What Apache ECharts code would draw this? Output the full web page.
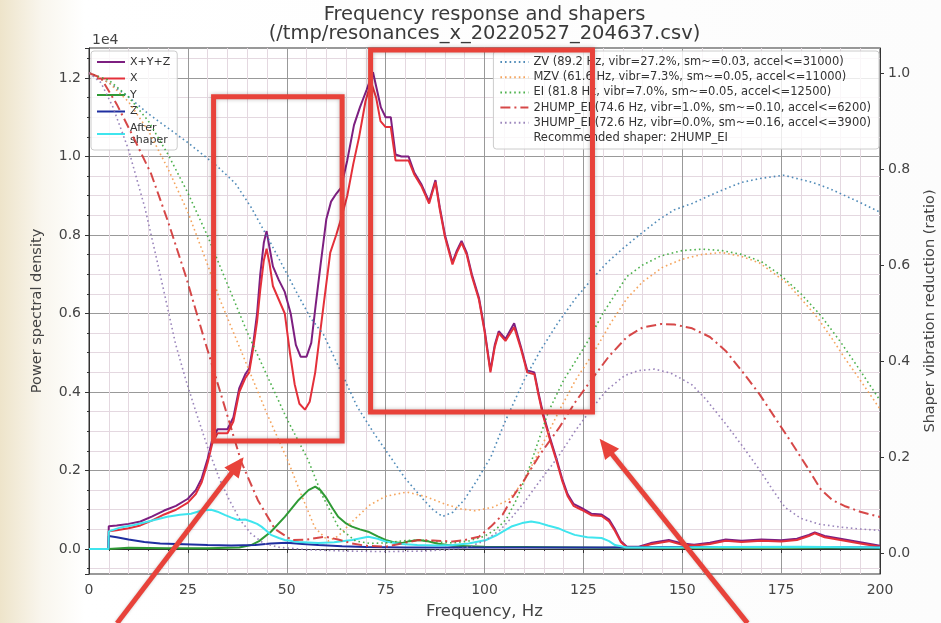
<!DOCTYPE html>
<html><head><meta charset="utf-8">
<script src="https://cdn.jsdelivr.net/npm/echarts@6/dist/echarts.min.js"></script>
<style>html,body{margin:0;padding:0;background:#fff}#chart{width:941px;height:623px}</style>
</head><body><div id="chart"></div>
<script>
// ---------- data (PSD in units of 1e4, shaper ratios) ----------
const psdSum = [[0,0],[4.9,0],[5,0.058],[7,0.06],[10,0.064],[13,0.07],[16,0.083],[19,0.098],[22,0.11],[25,0.128],[27,0.15],[28.5,0.18],[30,0.23],[31.2,0.28],[32.5,0.305],[35,0.305],[36.5,0.335],[38,0.41],[39.5,0.445],[40.5,0.46],[41.5,0.52],[42.5,0.6],[43.3,0.7],[44.2,0.78],[44.9,0.81],[45.6,0.77],[46.5,0.72],[48,0.685],[49.5,0.655],[51,0.6],[52.3,0.52],[53.5,0.49],[55,0.49],[56.2,0.525],[57.3,0.62],[58.5,0.72],[60,0.84],[61.2,0.885],[62.5,0.905],[63.7,0.92],[65.3,0.99],[67,1.08],[68.5,1.125],[70.2,1.17],[71.8,1.215],[72.8,1.17],[73.8,1.125],[75,1.1],[76.3,1.1],[77.5,1.005],[79,1.0],[80.8,1.0],[82.2,0.96],[84,0.93],[86,0.885],[87.6,0.94],[88.7,0.87],[90,0.8],[91.9,0.73],[93,0.76],[94.2,0.785],[95.5,0.755],[96.8,0.7],[98.6,0.64],[100,0.56],[101.5,0.455],[102.6,0.52],[103.6,0.555],[105.3,0.535],[107.5,0.575],[109.2,0.515],[110.8,0.455],[112.6,0.45],[113.6,0.4],[114.8,0.345],[116.5,0.285],[118.2,0.23],[119.6,0.18],[121,0.14],[122.5,0.115],[124.5,0.105],[127,0.09],[129.6,0.088],[131.5,0.075],[133,0.05],[134.5,0.02],[136,0.006],[139,0.006],[142,0.015],[146.6,0.023],[150,0.014],[153,0.011],[157,0.016],[161,0.024],[165,0.021],[170,0.024],[175,0.022],[179,0.026],[182,0.036],[183.5,0.042],[186,0.033],[190,0.026],[195,0.017],[200,0.008]];
const psdX = [[0,0],[4.9,0],[5,0.045],[7,0.048],[10,0.053],[13,0.06],[16,0.073],[19,0.088],[22,0.1],[25,0.118],[27,0.14],[28.5,0.17],[30,0.22],[31.2,0.27],[32.5,0.295],[35,0.295],[36.5,0.325],[38,0.4],[39.5,0.435],[40.5,0.45],[41.5,0.51],[42.5,0.58],[43.3,0.66],[44.2,0.735],[44.9,0.765],[45.6,0.73],[46.5,0.67],[48,0.635],[49.5,0.6],[50.8,0.5],[52,0.42],[53.2,0.37],[54.6,0.355],[55.8,0.375],[57.2,0.45],[58.3,0.54],[59.3,0.62],[61,0.755],[62.5,0.8],[63.7,0.84],[65.3,0.9],[66.8,0.98],[68.3,1.05],[69.9,1.14],[71.3,1.19],[72.6,1.15],[73.7,1.09],[75,1.075],[76.3,1.075],[77.5,0.99],[79,0.99],[80.8,0.99],[82.2,0.955],[84,0.925],[86,0.88],[87.6,0.935],[88.7,0.865],[90,0.795],[91.9,0.725],[93,0.755],[94.2,0.78],[95.5,0.75],[96.8,0.695],[98.6,0.635],[100,0.555],[101.5,0.45],[102.6,0.515],[103.6,0.55],[105.3,0.53],[107.5,0.565],[109.2,0.51],[110.8,0.45],[112.6,0.445],[113.6,0.395],[114.8,0.34],[116.5,0.28],[118.2,0.225],[119.6,0.175],[121,0.135],[122.5,0.11],[124.5,0.1],[127,0.086],[129.6,0.084],[131.5,0.07],[133,0.046],[134.5,0.017],[136,0.004],[139,0.004],[142,0.012],[146.6,0.02],[150,0.011],[153,0.009],[157,0.013],[161,0.021],[165,0.018],[170,0.021],[175,0.019],[179,0.023],[182,0.033],[183.5,0.04],[186,0.03],[190,0.023],[195,0.014],[200,0.006]];
const psdY = [[0,0],[4.9,0],[5,0.004],[10,0.003],[20,0.002],[30,0.002],[38,0.004],[41,0.01],[43,0.02],[46,0.044],[49.5,0.082],[53,0.125],[55.5,0.15],[57.2,0.159],[58.5,0.15],[60,0.13],[61.5,0.105],[63,0.082],[65,0.065],[66.5,0.057],[68.5,0.05],[70.6,0.044],[73,0.032],[75,0.023],[77,0.017],[79,0.015],[81,0.02],[83.4,0.023],[85.5,0.02],[88,0.014],[92,0.008],[100,0.006],[110,0.005],[130,0.003],[150,0.003],[175,0.003],[200,0.002]];
const psdZ = [[0,0],[4.9,0],[5,0.033],[7,0.03],[10,0.024],[14,0.018],[18,0.014],[24,0.012],[30,0.01],[36,0.009],[42,0.01],[46,0.014],[50,0.016],[54,0.013],[58,0.01],[64,0.007],[70,0.005],[80,0.004],[100,0.004],[130,0.004],[150,0.005],[175,0.005],[200,0.004]];
const psdAfter = [[0,0],[4.9,0],[5,0.045],[8,0.055],[11.4,0.061],[15,0.07],[19.8,0.082],[23,0.087],[25.8,0.09],[28.5,0.098],[30.9,0.1],[32.5,0.095],[34.3,0.087],[36,0.08],[37.6,0.074],[39.5,0.075],[41,0.07],[42.5,0.064],[43.6,0.057],[45,0.045],[46,0.036],[48,0.028],[49.5,0.023],[53,0.018],[58,0.015],[62,0.017],[66.5,0.023],[70.6,0.031],[73,0.026],[75,0.019],[79,0.013],[83,0.01],[88,0.009],[92,0.01],[96,0.014],[100.4,0.023],[103,0.035],[104.6,0.044],[107,0.058],[109.5,0.066],[111.8,0.07],[114,0.066],[116,0.06],[118.6,0.053],[120.5,0.045],[122.8,0.036],[126,0.03],[129.6,0.028],[131.5,0.02],[133,0.01],[136,0.004],[145,0.004],[160,0.005],[180,0.006],[200,0.004]];

const shaperZV = [[0,1.0],[5,0.98],[10,0.95],[15,0.915],[20,0.885],[25,0.855],[28,0.835],[32.5,0.805],[37,0.77],[41,0.72],[45,0.66],[49.5,0.59],[53,0.535],[56,0.49],[59.3,0.455],[63,0.39],[67.8,0.305],[72,0.25],[76.2,0.2],[80,0.155],[84.7,0.11],[87,0.09],[89.4,0.076],[92,0.085],[94.8,0.11],[98,0.15],[101.6,0.2],[105,0.27],[110,0.36],[114,0.42],[118.6,0.48],[123,0.53],[127,0.569],[131,0.605],[135.5,0.638],[140,0.668],[144,0.694],[148,0.715],[152.5,0.728],[157,0.745],[161,0.759],[165,0.772],[169.6,0.78],[175.6,0.787],[182.5,0.773],[187,0.76],[191,0.745],[195,0.73],[200,0.71]];
const shaperMZV = [[0,1.0],[5,0.98],[10,0.94],[15,0.88],[20,0.8],[25,0.71],[30,0.6],[33,0.53],[35,0.49],[40,0.39],[45,0.29],[50.2,0.194],[53.6,0.123],[57.1,0.053],[60.5,0.025],[63,0.035],[66.5,0.065],[71,0.1],[75,0.118],[80.3,0.127],[85,0.118],[90,0.102],[94,0.092],[97.5,0.088],[102,0.095],[106,0.11],[110,0.15],[114,0.215],[118.8,0.295],[123,0.36],[127.4,0.415],[132,0.48],[136,0.53],[140,0.565],[145,0.595],[150,0.612],[155,0.622],[160,0.626],[165,0.618],[169.6,0.604],[176.5,0.562],[180,0.53],[184.2,0.49],[188,0.445],[191,0.407],[195,0.36],[200,0.3]];
const shaperEI = [[0,1.0],[5,0.985],[10,0.95],[15,0.9],[20,0.83],[25,0.75],[30,0.66],[35,0.56],[40,0.46],[45,0.37],[50,0.28],[55.4,0.194],[58.8,0.123],[63.1,0.053],[67.4,0.025],[71,0.02],[75,0.021],[80,0.026],[84,0.027],[88,0.023],[92,0.021],[96,0.025],[100,0.035],[103,0.05],[105.5,0.07],[108,0.11],[111,0.17],[113.5,0.23],[116.2,0.295],[120,0.36],[125.7,0.435],[130,0.5],[136,0.576],[140,0.6],[144.6,0.619],[150,0.63],[155,0.633],[160,0.63],[165,0.622],[170,0.607],[175,0.578],[180,0.54],[185,0.495],[190,0.44],[195,0.38],[200,0.318]];
const shaper2HumpEI = [[0,1.0],[3,0.99],[7,0.935],[11,0.87],[15.7,0.79],[20,0.69],[24.5,0.576],[29.2,0.444],[34.3,0.305],[38.5,0.19],[42.7,0.11],[47,0.05],[51.3,0.027],[55,0.028],[59.7,0.034],[63,0.028],[66.5,0.02],[70,0.015],[75,0.013],[79,0.02],[83.3,0.027],[87,0.026],[92,0.024],[95,0.027],[98.6,0.034],[101.6,0.055],[104.6,0.08],[107,0.115],[110.2,0.154],[114,0.205],[118.8,0.26],[123,0.315],[127.4,0.365],[131.5,0.41],[136,0.45],[140,0.47],[144.6,0.477],[148,0.476],[152.5,0.468],[157,0.45],[161,0.421],[165,0.38],[169.6,0.33],[174,0.275],[178,0.225],[181.5,0.18],[185,0.133],[188,0.11],[191,0.098],[195,0.086],[200,0.075]];
const shaper3HumpEI = [[0,1.0],[3,0.98],[6,0.93],[10,0.84],[14.2,0.717],[18,0.58],[21.9,0.435],[24.5,0.36],[27,0.295],[30,0.22],[33,0.154],[35.5,0.11],[38.2,0.069],[41,0.04],[44.2,0.02],[48,0.012],[55,0.007],[65,0.004],[75,0.003],[85,0.004],[95,0.01],[100,0.025],[104,0.048],[107,0.075],[110,0.105],[114,0.15],[118.6,0.2],[123,0.255],[127,0.3],[131,0.34],[135.5,0.37],[139,0.38],[143,0.383],[147,0.375],[150,0.362],[152.5,0.35],[156,0.32],[160.9,0.27],[165,0.225],[169.4,0.175],[173,0.13],[176,0.095],[180,0.072],[184.7,0.06],[190,0.054],[195,0.05],[200,0.047]];

const leftTickLabels = [0, 0.2, 0.4, 0.6, 0.8, 1.0, 1.2];
const rightTicks = [0, 0.2, 0.4, 0.6, 0.8, 1.0];
const psdNames = ['X+Y+Z', 'X', 'Y', 'Z', 'After\nshaper'];
const shaperNames = [
  'ZV (89.2 Hz, vibr=27.2%, sm~=0.03, accel<=31000)',
  'MZV (61.6 Hz, vibr=7.3%, sm~=0.05, accel<=11000)',
  'EI (81.8 Hz, vibr=7.0%, sm~=0.05, accel<=12500)',
  '2HUMP_EI (74.6 Hz, vibr=1.0%, sm~=0.10, accel<=6200)',
  '3HUMP_EI (72.6 Hz, vibr=0.0%, sm~=0.16, accel<=3900)'
];
const recommendedLabel = 'Recommended shaper: 2HUMP_EI';
// annotation overlays (data coordinates on left axis)
const boxes = [[[31.5, 1.152], [64.0, 0.275]], [[71.2, 1.271], [127.3, 0.349]]];
const arrows = [[[7.1, -0.189], [39.1, 0.234]], [[166.5, -0.189], [129.1, 0.281]]];

// ---------- chart ----------
const FONT = 'DejaVu Sans';
const chart = echarts.init(document.getElementById('chart'), null, {renderer: 'canvas'});
const G = {left: 89, right: 61, top: 48, bottom: 49};
const psdColors = ['#7d1f80', '#e4303a', '#2f9a35', '#1f2ea0', '#3fe5ee'];
const shColors = ['#3d7eb0', '#f49a4a', '#3aa83a', '#d23434', '#8f78b4'];
const shTypes = [[1.6, 3], [1.6, 3], [1.6, 3], [10, 4, 2, 4], [1.6, 3]];
const psdData = [psdSum, psdX, psdY, psdZ, psdAfter];
const shData = [shaperZV, shaperMZV, shaperEI, shaper2HumpEI, shaper3HumpEI];

const series = [];
psdNames.forEach((n, i) => series.push({
  name: n, type: 'line', xAxisIndex: 0, yAxisIndex: 0, data: psdData[i],
  symbol: 'none', showSymbol: false, animation: false,
  lineStyle: {color: psdColors[i], width: 2}, itemStyle: {color: psdColors[i]}
}));
shaperNames.forEach((n, i) => series.push({
  name: n, type: 'line', xAxisIndex: 0, yAxisIndex: 1, data: shData[i],
  symbol: 'none', showSymbol: false, animation: false,
  lineStyle: {color: shColors[i], width: i === 3 ? 2 : 1.6, type: shTypes[i], opacity: 0.9},
  itemStyle: {color: shColors[i]}
}));
series.push({name: recommendedLabel, type: 'line', yAxisIndex: 1, data: [], symbol: 'none',
  lineStyle: {opacity: 0}, itemStyle: {opacity: 0}});

const minor = '#e4d8e0', major = '#999999';
const legendCommon = {
  orient: 'vertical', selectedMode: false, itemWidth: 28, itemHeight: 10,
  itemStyle: {opacity: 0, borderWidth: 0},
  backgroundColor: 'rgba(255,255,255,0.8)', borderColor: '#cccccc', borderWidth: 1, borderRadius: 3
};
const option = {
  animation: false,
  backgroundColor: new echarts.graphic.LinearGradient(0, 0, 1, 0, [
    {offset: 0, color: '#eee4ca'}, {offset: 0.045, color: '#f9f6ee'}, {offset: 0.09, color: '#ffffff'}, {offset: 1, color: '#fcfcfc'}]),
  title: {
    text: 'Frequency response and shapers\n(/tmp/resonances_x_20220527_204637.csv)',
    left: 484.5, top: 5, padding: 0, textAlign: 'center',
    textStyle: {fontFamily: FONT, fontSize: 19.5, lineHeight: 19, fontWeight: 'normal', color: '#3a3a3a'}
  },
  grid: {left: G.left, right: G.right, top: G.top, bottom: G.bottom, show: true,
    outerBoundsMode: 'none', containLabel: false,
    backgroundColor: '#ffffff', borderColor: '#333', borderWidth: 1},
  legend: [
    Object.assign({}, legendCommon, {data: psdNames, left: 91, top: 51, z: 1,
      itemGap: 4.5, padding: [5, 7, 4, 5],
      textStyle: {fontFamily: FONT, fontSize: 11, lineHeight: 12, color: '#333'}}),
    Object.assign({}, legendCommon, {
      data: shaperNames.concat([{name: recommendedLabel, lineStyle: {opacity: 0}}]),
      right: 62, top: 51, itemGap: 3.2, padding: [5, 8, 5, 6],
      textStyle: {fontFamily: FONT, fontSize: 11.5, lineHeight: 12, color: '#333'}})
  ],
  xAxis: {
    type: 'value', min: 0, max: 200, interval: 25,
    name: 'Frequency, Hz', nameLocation: 'middle', nameGap: 29,
    nameTextStyle: {fontFamily: FONT, fontSize: 16.5, color: '#444'},
    axisLine: {show: true, lineStyle: {color: '#333'}},
    axisTick: {show: true, length: 4, lineStyle: {color: '#333'}},
    minorTick: {show: true, splitNumber: 5, length: 2, lineStyle: {color: '#333'}},
    axisLabel: {fontFamily: FONT, fontSize: 14, color: '#444', margin: 9},
    splitLine: {show: true, lineStyle: {color: major, width: 1}},
    minorSplitLine: {show: true, lineStyle: {color: minor, width: 1}}
  },
  yAxis: [
    {type: 'value', min: -0.0637, max: 1.2764, splitNumber: 7, position: 'left',
      name: 'Power spectral density', nameLocation: 'middle', nameGap: 44, nameRotate: 90,
      nameTextStyle: {fontFamily: FONT, fontSize: 14.5, color: '#444'},
      axisLine: {show: true, lineStyle: {color: '#333'}},
      axisTick: {show: true, length: 4, lineStyle: {color: '#333'}},
      minorTick: {show: true, splitNumber: 4, length: 2, lineStyle: {color: '#333'}},
      axisLabel: {fontFamily: FONT, fontSize: 14, color: '#444', margin: 8,
        formatter: v => {
          const hit = leftTickLabels.find(t => Math.abs(t - v) < 1e-6);
          return hit === undefined ? '' : hit.toFixed(1);
        }},
      splitLine: {show: true, lineStyle: {color: major, width: 1}},
      minorSplitLine: {show: true, lineStyle: {color: minor, width: 1}}
    },
    {type: 'value', min: -0.04375, max: 1.052, position: 'right',
      name: 'Shaper vibration reduction (ratio)', nameLocation: 'middle', nameGap: 43, nameRotate: 90,
      nameTextStyle: {fontFamily: FONT, fontSize: 14.5, color: '#444'},
      axisLine: {show: true, lineStyle: {color: '#333'}},
      axisTick: {show: true, length: 4, customValues: rightTicks, lineStyle: {color: '#333'}},
      axisLabel: {fontFamily: FONT, fontSize: 14, color: '#444', margin: 8, customValues: rightTicks,
        formatter: v => v.toFixed(1)},
      splitLine: {show: false}
    }
  ],
  series: series
};
chart.setOption(option);

// ---------- overlays: exponent label, red annotation boxes and arrows ----------
const toPx = p => chart.convertToPixel({xAxisIndex: 0, yAxisIndex: 0}, p);
const RED = '#e8423a';
const gfx = [{
  type: 'text', x: G.left + 3, y: G.top - 1, z: 50,
  style: {text: '1e4', fontFamily: FONT, fontSize: 14, fill: '#444', align: 'left', verticalAlign: 'bottom'}
}];
boxes.forEach(b => {
  const a = toPx(b[0]), c = toPx(b[1]);
  gfx.push({type: 'rect', z: 100,
    shape: {x: Math.min(a[0], c[0]), y: Math.min(a[1], c[1]), width: Math.abs(c[0] - a[0]), height: Math.abs(c[1] - a[1])},
    style: {fill: 'none', stroke: RED, lineWidth: 5, shadowBlur: 4, shadowColor: 'rgba(0,0,0,0.25)'}});
});
arrows.forEach(ar => {
  const s = toPx(ar[0]), t = toPx(ar[1]);
  const dx = t[0] - s[0], dy = t[1] - s[1], L = Math.hypot(dx, dy);
  const ux = dx / L, uy = dy / L, nx = -uy, ny = ux;
  const hl = 20, hw = 9;
  const bx = t[0] - ux * hl, by = t[1] - uy * hl;
  gfx.push({type: 'line', z: 100, shape: {x1: s[0], y1: s[1], x2: bx + ux * 2, y2: by + uy * 2},
    style: {stroke: RED, lineWidth: 5, shadowBlur: 3, shadowColor: 'rgba(0,0,0,0.2)'}});
  gfx.push({type: 'polygon', z: 100,
    shape: {points: [[t[0], t[1]], [bx + nx * hw, by + ny * hw], [bx - nx * hw, by - ny * hw]]},
    style: {fill: RED}});
});
chart.setOption({graphic: gfx});
</script>
</body></html>
